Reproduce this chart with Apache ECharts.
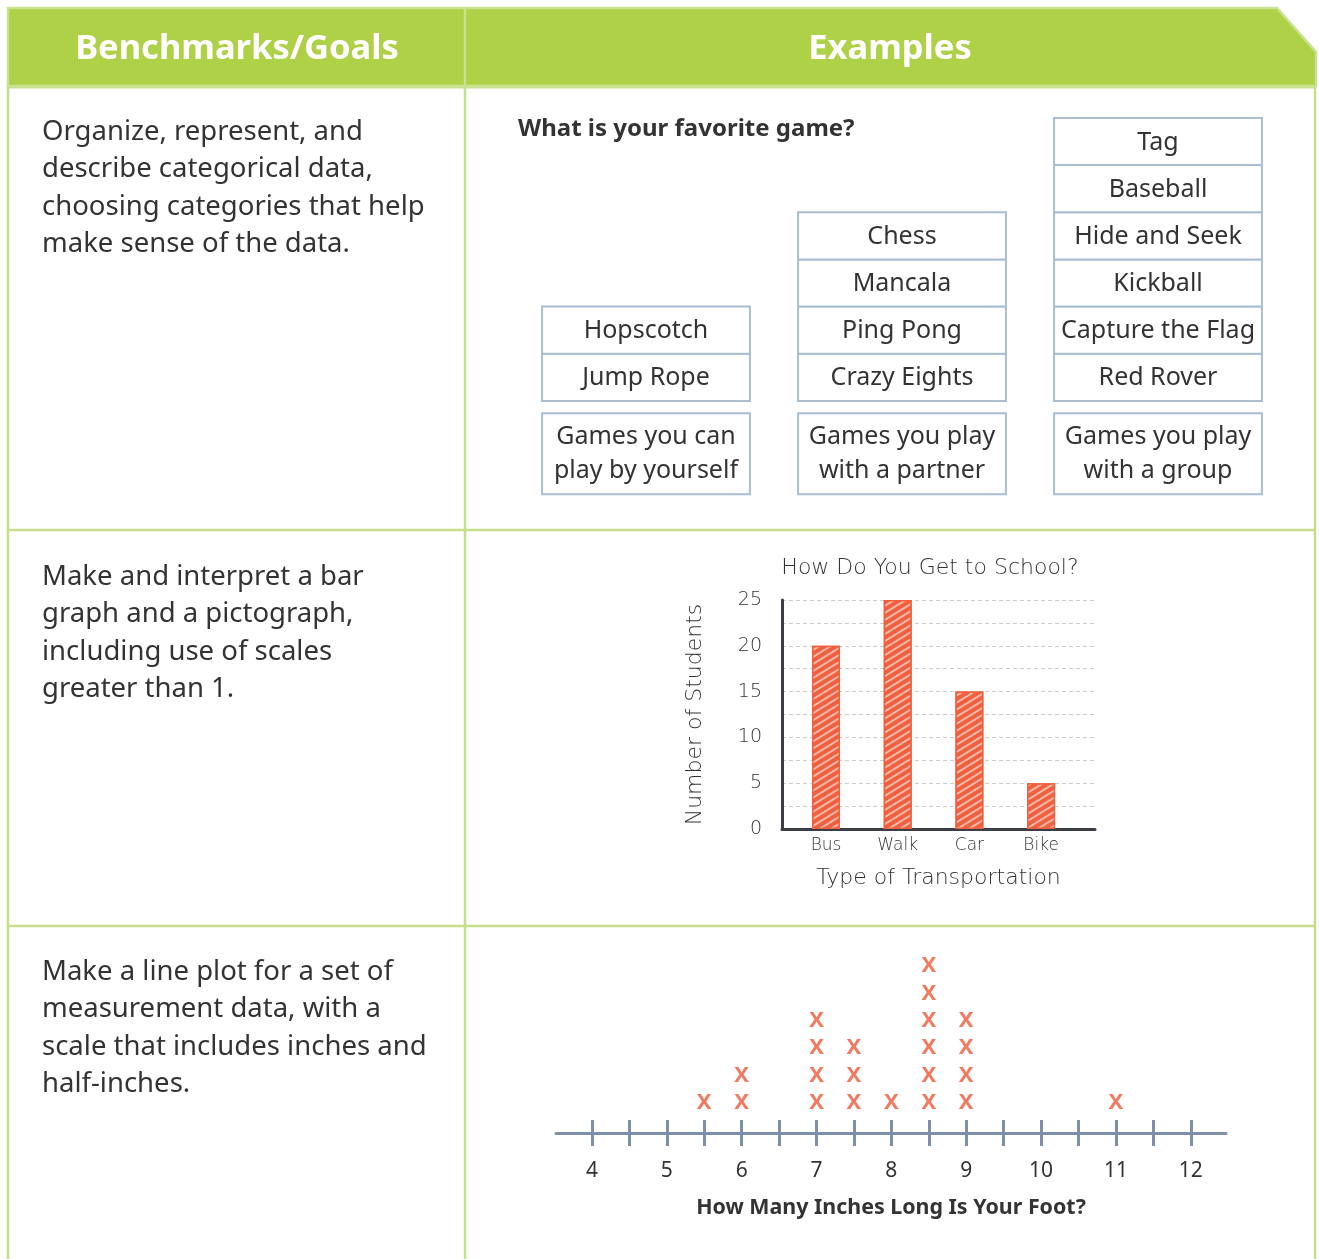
<!DOCTYPE html>
<html><head><meta charset="utf-8">
<script src="https://cdn.jsdelivr.net/npm/echarts@6/dist/echarts.min.js"></script>
<style>html,body{margin:0;padding:0;background:#fff}#c{width:1319px;height:1259px}</style>
</head><body><div id="c"></div>
<script>
// ---------- data ----------
const headerTitles = ['Benchmarks/Goals', 'Examples'];
const benchmarkTexts = [
  'Organize, represent, and\ndescribe categorical data,\nchoosing categories that help\nmake sense of the data.',
  'Make and interpret a bar\ngraph and a pictograph,\nincluding use of scales\ngreater than 1.',
  'Make a line plot for a set of\nmeasurement data, with a\nscale that includes inches and\nhalf-inches.'
];
const gameQuestion = 'What is your favorite game?';
const gameGroupLabels = ['Games you can\nplay by yourself', 'Games you play\nwith a partner', 'Games you play\nwith a group'];
const gamesByYourself = ['Jump Rope', 'Hopscotch'];
const gamesWithPartner = ['Crazy Eights', 'Ping Pong', 'Mancala', 'Chess'];
const gamesWithGroup = ['Red Rover', 'Capture the Flag', 'Kickball', 'Hide and Seek', 'Baseball', 'Tag'];

const transportTitle = 'How Do You Get to School?';
const transportCategories = ['Bus', 'Walk', 'Car', 'Bike'];
const transportStudents = [20, 25, 15, 5];
const transportYName = 'Number of Students';
const transportXName = 'Type of Transportation';

const footLengths = [5.5, 6, 7, 7.5, 8, 8.5, 9, 11];
const footCounts = [1, 2, 4, 3, 1, 6, 4, 1];
const inchTicks = [4, 4.5, 5, 5.5, 6, 6.5, 7, 7.5, 8, 8.5, 9, 9.5, 10, 10.5, 11, 11.5, 12];
const inchLabels = [4, 5, 6, 7, 8, 9, 10, 11, 12];
const footAxisName = 'How Many Inches Long Is Your Foot?';

// ---------- derived ----------
const gameItems = [];
[gamesByYourself, gamesWithPartner, gamesWithGroup].forEach((list, g) =>
  list.forEach((name, r) => gameItems.push([g, r, name])));
const groupItems = gameGroupLabels.map((t, g) => [g, 0, t]);
const footPoints = [];
footLengths.forEach((x, i) => { for (let k = 1; k <= footCounts[i]; k++) footPoints.push([x, k]); });

// ---------- style ----------
const SANS = '"Noto Sans", "Open Sans", sans-serif';
const HAND = '"DejaVu Sans", sans-serif';
const GREEN = '#AED147';
const BORDER = '#C6DF8C';
const RED = '#F0603E';
const BOXLINE = '#A9BDD3';
const TXT = '#333333';

const chart = echarts.init(document.getElementById('c'), null, { renderer: 'canvas' });

function lineEl(x1, y1, x2, y2, color, w) {
  return { type: 'line', shape: { x1, y1, x2, y2 }, style: { stroke: color, lineWidth: w }, silent: true };
}

const graphics = [
  { type: 'polygon', shape: { points: [[8, 8], [1277, 8], [1316, 52], [1316, 86], [8, 86]] },
    style: { fill: GREEN, stroke: '#C9E28F', lineWidth: 2.5 }, silent: true },
  lineEl(465, 8, 465, 86, '#C9E28F', 2.5),
  lineEl(8, 87, 1316, 87, '#C9E28F', 3),
  lineEl(8, 86, 8, 1259, BORDER, 2.5),
  lineEl(465, 86, 465, 1259, BORDER, 2.5),
  lineEl(1315, 86, 1315, 1259, BORDER, 2.5),
  lineEl(8, 530, 1316, 530, BORDER, 2.5),
  lineEl(8, 926, 1316, 926, BORDER, 2.5),
  { type: 'text', style: { text: headerTitles[0], x: 237, y: 49, align: 'center', verticalAlign: 'middle',
      font: 'bold 34.5px ' + SANS, fill: '#fff' } },
  { type: 'text', style: { text: headerTitles[1], x: 890, y: 49, align: 'center', verticalAlign: 'middle',
      font: 'bold 34.5px ' + SANS, fill: '#fff' } },
  { type: 'text', style: { text: gameQuestion, x: 518, y: 129, align: 'left', verticalAlign: 'middle',
      font: 'bold 24px ' + SANS, fill: TXT } },
  { type: 'text', style: { text: transportTitle, x: 930, y: 568, align: 'center', verticalAlign: 'middle',
      font: '200 22px ' + HAND, fill: TXT } }
];
const benchTops = [113.5, 558.5, 953.5];
benchmarkTexts.forEach((t, i) => graphics.push({
  type: 'text', style: { text: t, x: 42, y: benchTops[i], align: 'left', verticalAlign: 'top',
    font: '27.5px ' + SANS, lineHeight: 37.4, fill: TXT }
}));

const option = {
  backgroundColor: '#fff',
  animation: false,
  graphic: graphics,
  grid: [
    { left: 518, top: 94.3, width: 768, height: 401 },
    { left: 782, top: 600, width: 313, height: 229 },
    { left: 556, top: 936.6, width: 670, height: 196.4 }
  ],
  xAxis: [
    { gridIndex: 0, type: 'value', min: -0.5, max: 2.5, show: false },
    { gridIndex: 1, type: 'value', min: -0.614, max: 3.752,
      axisLine: { onZero: false, lineStyle: { color: '#3B3E46', width: 3 } },
      axisTick: { show: false }, splitLine: { show: false },
      axisLabel: { customValues: [0, 1, 2, 3], formatter: v => transportCategories[v],
        color: TXT, fontFamily: HAND, fontWeight: 200, fontSize: 17, margin: 8 },
      name: transportXName, nameLocation: 'middle', nameGap: 38,
      nameTextStyle: { color: TXT, fontFamily: HAND, fontWeight: 200, fontSize: 22 } },
    { gridIndex: 2, type: 'value', min: 3.52, max: 12.47, position: 'bottom',
      axisLine: { onZero: false, lineStyle: { color: '#7E90A7', width: 3 } },
      axisTick: { customValues: inchTicks, length: 13, lineStyle: { color: '#7E90A7', width: 3 } },
      splitLine: { show: false },
      axisLabel: { customValues: inchLabels, color: TXT, fontFamily: SANS, fontSize: 21, margin: 28 },
      name: footAxisName, nameLocation: 'middle', nameGap: 64,
      nameTextStyle: { color: TXT, fontFamily: SANS, fontWeight: 'bold', fontSize: 21.4 } },
    { gridIndex: 2, type: 'value', min: 3.52, max: 12.47, position: 'bottom',
      axisLine: { show: false, onZero: false },
      axisTick: { customValues: inchTicks, inside: true, length: 13, lineStyle: { color: '#7E90A7', width: 3 } },
      axisLabel: { show: false }, splitLine: { show: false } }
  ],
  yAxis: [
    { gridIndex: 0, type: 'value', min: -2, max: 6.5, show: false },
    { gridIndex: 1, type: 'value', min: 0, max: 25, interval: 2.5,
      axisLine: { show: true, onZero: false, lineStyle: { color: '#3B3E46', width: 3 } },
      axisTick: { show: false },
      splitLine: { show: true, lineStyle: { color: '#CCCCCC', type: [4, 3], width: 1 } },
      axisLabel: { formatter: v => (v % 5 === 0 ? String(v) : ''), color: TXT, fontFamily: HAND,
        fontWeight: 200, fontSize: 19, margin: 20 },
      name: transportYName, nameLocation: 'middle', nameGap: 76, nameRotate: 90,
      nameTextStyle: { color: TXT, fontFamily: HAND, fontWeight: 200, fontSize: 22 } },
    { gridIndex: 2, type: 'value', min: -0.168, max: 7, show: false }
  ],
  series: [
    { type: 'custom', xAxisIndex: 0, yAxisIndex: 0, data: gameItems, silent: true,
      renderItem: (params, api) => {
        const g = api.value(0), r = api.value(1);
        const tl = api.coord([g - 0.406, r + 1]);
        const br = api.coord([g + 0.406, r]);
        return { type: 'group', children: [
          { type: 'rect', shape: { x: tl[0], y: tl[1], width: br[0] - tl[0], height: br[1] - tl[1] },
            style: { fill: '#fff', stroke: BOXLINE, lineWidth: 2 } },
          { type: 'text', style: { text: gameItems[params.dataIndex][2], x: (tl[0] + br[0]) / 2, y: (tl[1] + br[1]) / 2 + 1,
            align: 'center', verticalAlign: 'middle', font: '25px ' + SANS, fill: TXT } }
        ] };
      } },
    { type: 'custom', xAxisIndex: 0, yAxisIndex: 0, data: groupItems, silent: true,
      renderItem: (params, api) => {
        const g = api.value(0);
        const tl = api.coord([g - 0.406, -0.26]);
        const br = api.coord([g + 0.406, -1.98]);
        return { type: 'group', children: [
          { type: 'rect', shape: { x: tl[0], y: tl[1], width: br[0] - tl[0], height: br[1] - tl[1] },
            style: { fill: '#fff', stroke: BOXLINE, lineWidth: 2 } },
          { type: 'text', style: { text: groupItems[params.dataIndex][2], x: (tl[0] + br[0]) / 2, y: (tl[1] + br[1]) / 2,
            align: 'center', verticalAlign: 'middle', font: '25px ' + SANS, lineHeight: 34, fill: TXT } }
        ] };
      } },
    { type: 'bar', xAxisIndex: 1, yAxisIndex: 1, barWidth: 28, silent: true,
      data: transportStudents.map((v, i) => [i, v]),
      itemStyle: { color: RED, borderColor: RED, borderWidth: 1.5,
        decal: { symbol: 'rect', symbolSize: 1, dashArrayX: [1, 0], dashArrayY: [2, 4], rotation: -0.55,
          color: 'rgba(255,255,255,0.55)' } } },
    { type: 'scatter', xAxisIndex: 2, yAxisIndex: 2, data: footPoints, silent: true,
      symbolSize: 1, itemStyle: { color: 'rgba(0,0,0,0)' },
      label: { show: true, position: 'inside', formatter: 'X', color: '#EE5A38', fontFamily: SANS,
        fontWeight: 'bold', fontSize: 22, offset: [0, 2] } }
  ]
};
chart.setOption(option);
</script>
</body></html>
